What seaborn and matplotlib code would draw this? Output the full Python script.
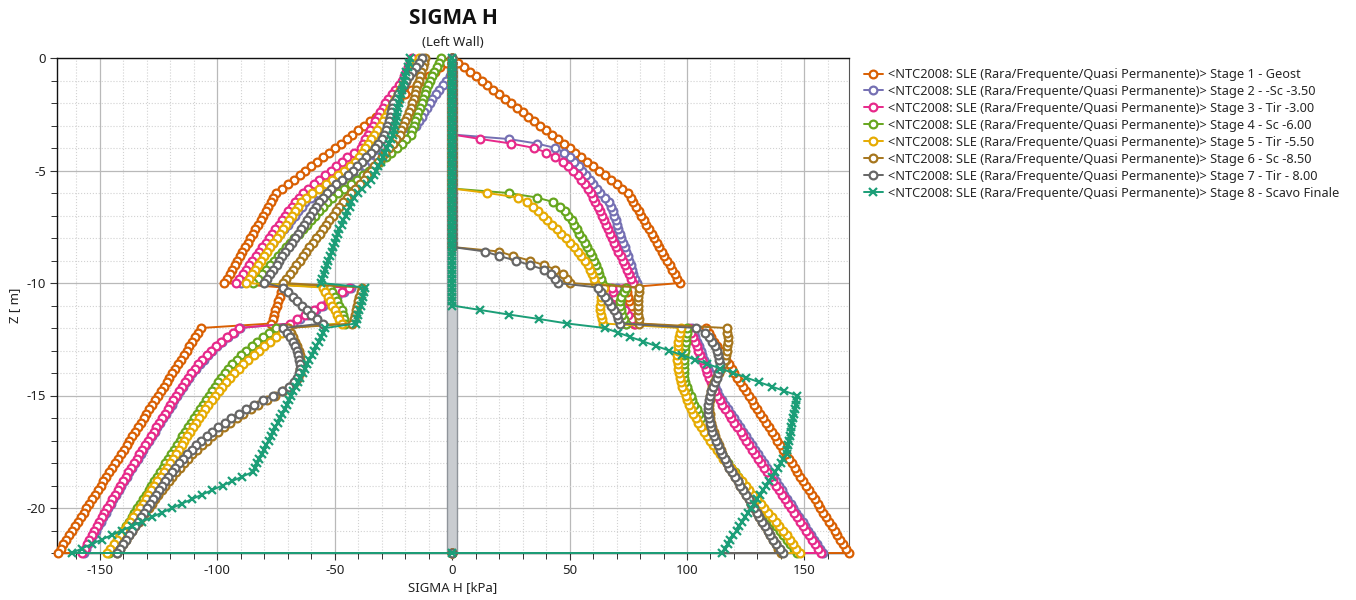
import numpy as np
import pandas as pd
import matplotlib
matplotlib.use("Agg")
import matplotlib.pyplot as plt
import seaborn as sns
from matplotlib.lines import Line2D
from matplotlib.ticker import MultipleLocator

# Wall mesh: node depths (m), 0.2 m spacing from top of wall to toe
node_z = np.linspace(0.0, -22.0, 111)

stage_labels = [
    "<NTC2008: SLE (Rara/Frequente/Quasi Permanente)> Stage 1 - Geost",
    "<NTC2008: SLE (Rara/Frequente/Quasi Permanente)> Stage 2 - -Sc -3.50",
    "<NTC2008: SLE (Rara/Frequente/Quasi Permanente)> Stage 3 - Tir -3.00",
    "<NTC2008: SLE (Rara/Frequente/Quasi Permanente)> Stage 4 - Sc -6.00",
    "<NTC2008: SLE (Rara/Frequente/Quasi Permanente)> Stage 5 - Tir -5.50",
    "<NTC2008: SLE (Rara/Frequente/Quasi Permanente)> Stage 6 - Sc -8.50",
    "<NTC2008: SLE (Rara/Frequente/Quasi Permanente)> Stage 7 - Tir - 8.00",
    "<NTC2008: SLE (Rara/Frequente/Quasi Permanente)> Stage 8 - Scavo Finale",
]

# Horizontal stress (kPa) at each node; left side negative, right side positive
s1_left = [
    0, -2.5, -5, -7.5, -10, -12.5, -15, -17.5, -20, -22.5, -25, -27.5, -30, -32.5, -35, -37.5, -40, -42.5, -45, -47.5, -50, -52.5, -55, -57.5, -60, -62.5, -65, -67.5, -70, -72.5, -75,
    -76.1, -77.2, -78.3, -79.4, -80.5, -81.6, -82.7, -83.8, -84.9, -86, -87.1, -88.2, -89.3, -90.4, -91.5, -92.6, -93.7, -94.8, -95.9, -97,
    -72, -72.7, -73.4, -74, -74.7, -75.3, -76, -76.5, -77,
    -107, -108.2, -109.4, -110.7, -111.9, -113.1, -114.3, -115.5, -116.8, -118, -119.2, -120.4, -121.6, -122.9, -124.1, -125.3, -126.5, -127.7, -129, -130.2, -131.4, -132.6, -133.8, -135.1, -136.3, -137.5, -138.7, -139.9, -141.2, -142.4, -143.6, -144.8, -146, -147.3, -148.5, -149.7, -150.9, -152.1, -153.4, -154.6, -155.8, -157, -158.2, -159.5, -160.7, -161.9, -163.1, -164.3, -165.6, -166.8, -168,
]
s1_right = [
    0, 2.5, 5, 7.5, 10, 12.5, 15, 17.5, 20, 22.5, 25, 27.5, 30, 32.5, 35, 37.5, 40, 42.5, 45, 47.5, 50, 52.5, 55, 57.5, 60, 62.5, 65, 67.5, 70, 72.5, 75,
    76.1, 77.2, 78.3, 79.4, 80.5, 81.6, 82.7, 83.8, 84.9, 86, 87.1, 88.2, 89.3, 90.4, 91.5, 92.6, 93.7, 94.8, 95.9, 97,
    74, 74.5, 75, 75.5, 76, 76.4, 76.8, 77.2, 77.6,
    108, 109.2, 110.4, 111.7, 112.9, 114.1, 115.3, 116.5, 117.8, 119, 120.2, 121.4, 122.6, 123.9, 125.1, 126.3, 127.5, 128.7, 130, 131.2, 132.4, 133.6, 134.8, 136.1, 137.3, 138.5, 139.7, 140.9, 142.2, 143.4, 144.6, 145.8, 147, 148.3, 149.5, 150.7, 151.9, 153.1, 154.4, 155.6, 156.8, 158, 159.2, 160.5, 161.7, 162.9, 164.1, 165.3, 166.6, 167.8, 169,
]

s2_left = [
    0, 0, 0, 0, -1, -2.5, -4, -5.5, -7, -8.5, -9.5, -10.6, -11.8, -13, -14.1, -15.3, -17.6, -20, -22.4, -24.8, -27.2, -29.6, -32, -34.5, -37.3, -40.3, -43.5, -46.8, -50.2, -53.6, -57, -60.2, -62.5,
    -64, -65.6, -67.1, -68.6, -70.1, -71.7, -73.2, -74.7, -76.3, -77.8, -79.3, -80.8, -82.4, -83.9, -85.4, -86.9, -88.5, -90,
    -43, -46, -49, -52, -55, -58, -61.5, -65, -68,
    -90.5, -93, -95.5, -97.9, -100.1, -102.2, -104.1, -105.9, -107.6, -109.2, -110.7, -112.1, -113.4, -114.7, -115.9, -117.1, -118.3, -119.5, -120.7, -121.9, -123.1, -124.3, -125.5, -126.7, -127.9, -129.1, -130.3, -131.5, -132.7, -133.9, -135.1, -136.3, -137.5, -138.6, -139.8, -140.9, -142, -143.2, -144.3, -145.4, -146.5, -147.6, -148.7, -149.7, -150.8, -151.9, -152.9, -154, -155, -156, -157,
]
s2_right = [
    0, 0, 0, 0, 0, 0, 0, 0, 0, 0, 0, 0, 0, 0, 0, 0, 0, 0,
    24, 36, 44, 47.5, 50, 52, 54, 55.5, 57, 58.5, 60, 61.5, 63, 65, 67,
    67.6, 68.3, 68.9, 69.6, 70.2, 70.8, 71.5, 72.1, 72.8, 73.4, 74, 74.7, 75.3, 76, 76.6, 77.2, 77.9, 78.5,
    70, 70.5, 71, 71.5, 72, 72.5, 73, 73.5, 74,
    102, 102.8, 103.5, 104.3, 105.1, 105.9, 106.6, 107.4, 108.2, 108.9, 109.7, 110.5, 111.3, 112, 112.8, 113.6,
    114.9, 116.1, 117.4, 118.7, 119.9, 121.2, 122.5, 123.8, 125, 126.3, 127.6, 128.8, 130.1, 131.4, 132.6, 133.9, 135.2, 136.5, 137.7, 139, 140.3, 141.5, 142.8, 144.1, 145.3, 146.6, 147.9, 149.2, 150.4, 151.7, 153, 154.2, 155.5, 156.8, 158,
]

s3_left = [
    -17, -17.9, -18.8, -19.7, -20.6, -21.5, -22.8, -24.3, -25.8, -27.2, -28.5, -29.6, -30.6, -31.7, -32.8, -33.9, -35, -36, -37, -38, -39, -41.8, -44.6, -47, -49.4, -51.8, -54.2, -56.6, -58.9, -61.2, -63.4, -65.4, -67,
    -68.4, -69.8, -71.2, -72.6, -73.9, -75.3, -76.7, -78.1, -79.5, -80.9, -82.3, -83.7, -85.1, -86.4, -87.8, -89.2, -90.6, -92,
    -44, -47, -50, -53, -56, -59, -62.5, -66, -69,
    -91, -93.5, -96, -98.4, -100.6, -102.7, -104.6, -106.4, -108.1, -109.7, -111.2, -112.6, -113.9, -115.2, -116.4, -117.6, -118.8, -120, -121.2, -122.4, -123.6, -124.8, -126, -127.2, -128.4, -129.6, -130.8, -132, -133.2, -134.4, -135.6, -136.8, -138, -139.1, -140.3, -141.4, -142.5, -143.7, -144.8, -145.9, -147, -148.1, -149.2, -150.2, -151.3, -152.4, -153.4, -154.5, -155.5, -156.5, -157.5,
]
s3_right = [
    0, 0, 0, 0, 0, 0, 0, 0, 0, 0, 0, 0, 0, 0, 0, 0, 0, 0,
    12, 25, 35, 40, 44, 47, 49.5, 51.5, 53.5, 55, 56.5, 58, 59, 60, 61,
    61.9, 62.8, 63.7, 64.6, 65.4, 66.3, 67.2, 68.1, 69, 69.9, 70.8, 71.7, 72.6, 73.4, 74.3, 75.2, 76.1, 77,
    68, 68.7, 69.4, 70.5, 72, 73.5, 75, 76.5, 78,
    101, 101.8, 102.5, 103.3, 104.1, 104.9, 105.6, 106.4, 107.2, 107.9, 108.7, 109.5, 110.3, 111, 111.8, 112.6,
    113.9, 115.1, 116.4, 117.7, 118.9, 120.2, 121.5, 122.8, 124, 125.3, 126.6, 127.8, 129.1, 130.4, 131.6, 132.9, 134.2, 135.5, 136.7, 138, 139.3, 140.5, 141.8, 143.1, 144.3, 145.6, 146.9, 148.2, 149.4, 150.7, 152, 153.2, 154.5, 155.8, 157,
]

s4_left = [
    -4.7, -5.7, -6.6, -7.6, -8.6, -9.5, -10.4, -11, -11.7, -12.4, -13, -13.7, -14.4, -15, -15.7, -16.4, -17, -17.7, -19.5, -21.5, -23.6, -25.9, -28.2, -30.6, -33, -35.5, -38, -40.6, -43.2, -45.9, -48.6, -51.2, -53.2,
    -54.9, -56.7, -58.4, -60.2, -61.9, -63.7, -65.4, -67.2, -68.9, -70.7, -72.4, -74.2, -75.9, -77.7, -79.4, -81.2, -82.9, -84.7,
    -52, -51, -50, -49, -48, -47, -46.5, -46, -45.5,
    -75, -77.8, -80.4, -83, -85.4, -87.7, -89.8, -91.8, -93.6, -95.3, -96.9, -98.4, -99.8, -101.1, -102.4, -103.6, -104.9, -106.2, -107.5, -108.8, -110.1, -111.3, -112.5, -113.7, -114.9, -116.1, -117.3, -118.5, -119.7, -120.9, -122.1, -123.3, -124.5, -125.7, -126.9, -128.1, -129.3, -130.5, -131.7, -132.9, -134.1, -135.3, -136.5, -137.7, -138.9, -140.1, -141.3, -142.5, -143.6, -144.8, -146,
]
s4_right = [
    0, 0, 0, 0, 0, 0, 0, 0, 0, 0, 0, 0, 0, 0, 0, 0, 0, 0, 0, 0, 0, 0, 0, 0, 0, 0, 0, 0, 0, 0,
    24, 36, 43, 46, 48, 49.5, 51, 52, 53, 54, 55.5, 56.5, 57.5, 58.5, 59.5, 60.5, 61.2, 62, 62.7, 63.3, 64,
    74, 73, 72, 71.5, 71.5, 72, 72.5, 73, 74,
    100, 99.8, 99.6, 99.4, 99.2, 99, 98.8, 98.7, 98.6, 98.6, 98.7, 98.9, 99.2,
    99.8, 100.6, 101.5, 102.3, 103.2, 104.1, 105.1, 106.1, 107.1, 108.2, 109.3, 110.4, 111.5, 112.7, 113.9, 115.1, 116.3, 117.5, 118.9, 120.3, 121.7, 123.1, 124.5, 126, 127.5, 129, 130.5, 132, 133.5, 135, 136.5, 138, 139.5, 141, 142.5, 144, 145.5, 147,
]

s5_left = [
    -14, -15.2, -16.3, -17.5, -18.7, -19.8, -21, -22.1, -23.2, -24.2, -25.2, -26.3, -27.4, -28.5, -29.6, -30.8, -32, -33.2, -34.4, -35.7, -37, -38.3, -39.7, -41.4, -43.6, -46, -48.5, -51, -53.8, -56.7, -59.6, -62.2, -64.2,
    -65.5, -66.8, -68.2, -69.5, -70.8, -72.1, -73.4, -74.8, -76.1, -77.4, -78.7, -80, -81.4, -82.7, -84, -85.3, -86.7, -88,
    -55, -54, -53, -52, -51, -50, -49, -48, -47,
    -70, -72.6, -75.2, -77.7, -80.1, -82.4, -84.6, -86.8, -88.9, -90.9, -92.8, -94.6, -96.3, -97.9, -99.5, -101, -102.4, -103.8, -105.2, -106.6, -108, -109.2, -110.4, -111.6, -112.8, -114, -115.2, -116.4, -117.6, -118.8, -120, -121.4, -122.8, -124.2, -125.6, -127, -128.2, -129.4, -130.6, -131.8, -133, -134.4, -135.8, -137.2, -138.6, -140, -141.4, -142.8, -144.2, -145.6, -147,
]
s5_right = [
    0, 0, 0, 0, 0, 0, 0, 0, 0, 0, 0, 0, 0, 0, 0, 0, 0, 0, 0, 0, 0, 0, 0, 0, 0, 0, 0, 0, 0, 0,
    15, 28, 32, 34.5, 36.5, 38.5, 40.5, 42.5, 44.5, 46.5, 48.5, 50.3, 52, 53.6, 55, 56.5, 57.7, 58.8, 59.7, 60.4, 61,
    64.5, 64, 63.5, 63.2, 63, 63, 63.2, 63.6, 64.3,
    97.5, 97, 96.6, 96.3, 96.1, 96, 95.9, 95.9, 96, 96.2, 96.5, 96.9, 97.4, 98, 98.7, 99.5,
    100.2, 101, 101.8, 102.7, 103.7, 104.8, 106, 107.2, 108.5, 109.8, 111.2, 112.6, 114, 115.5, 117, 118.6, 120.2, 121.8, 123.4, 125, 126.6, 128.2, 129.8, 131.4, 133, 134.6, 136.2, 137.8, 139.4, 141, 142.4, 143.8, 145.2, 146.6, 148,
]

s6_left = [
    -11.5, -12, -12.6, -13.1, -13.7, -14.2, -14.8, -15.3, -15.9, -16.4, -17, -17.6, -18.4, -19.2, -20, -20.8, -21.6, -22.4, -23.9, -25.4, -27, -28.5, -30, -31.6, -33.1, -34.6, -36.2, -37.7, -39.2, -41.2, -43.2, -45, -46.7,
    -48.1, -49.5, -50.9, -52.3, -53.7, -55.1, -56.5, -57.9, -59.3, -60.8, -62.2, -63.6, -65, -66.4, -67.8, -69.2, -70.6, -72,
    -38.5, -39, -39.5, -40, -40.5, -41, -41.5, -42, -42.5,
    -70, -68.8, -67.7, -66.8, -66, -65.4, -64.9, -64.6, -64.5, -64.6, -65, -65.8, -67.1, -69.2, -72, -75.5, -79, -82.5, -85.8, -88.9, -91.8, -94.6, -97.2, -99.7, -102.1, -104.4, -106.6, -108.7, -110.7, -112.6, -114.4, -116.1, -117.7, -119.3, -120.8, -122.3, -123.7, -125.1, -126.5, -127.9, -129.3, -130.7, -132.1, -133.5, -134.9, -136.3, -137.6, -138.9, -140.2, -141.5, -142.8,
]
s6_right = [
    0, 0, 0, 0, 0, 0, 0, 0, 0, 0, 0, 0, 0, 0, 0, 0, 0, 0, 0, 0, 0, 0, 0, 0, 0, 0, 0, 0, 0, 0, 0, 0, 0, 0, 0, 0, 0, 0, 0, 0, 0, 0, 0,
    20, 26, 33, 39, 44, 47, 49, 50,
    79.5, 79.5, 79.3, 79.3, 79.2, 79.2, 79.3, 79.4, 79.5,
    117, 117.2, 117.3, 117.3, 117.2, 117, 116.7, 116.2, 115.5, 114.5, 113.5, 112.5, 111.6, 110.8, 110.2, 109.8,
    109.6, 109.5, 109.5, 109.6, 109.9, 110.3, 110.8, 111.4, 112, 112.7, 113.5, 114.3, 115.1, 116, 117,
    118.1, 119.3, 120.4, 121.6, 122.7, 123.9, 125, 126.2, 127.3, 128.5, 129.7, 130.8, 132, 133.1, 134.3, 135.4, 136.6, 137.7, 138.9, 140,
]

s7_left = [
    -13, -14.3, -15.6, -16.9, -18.2, -19.5, -20.7, -21.9, -23, -24, -25, -25.6, -26.1, -26.6, -27.1, -27.7, -28.3, -29, -30.1, -31.4, -32.8, -34.5, -36.5, -38.5, -40.4, -42.2, -44.5, -47, -49.5, -51.5, -53.5, -55.2, -56.8,
    -58.1, -59.4, -60.7, -61.9, -63.2, -64.5, -65.8, -67.1, -68.4, -69.7, -71, -72.3, -73.6, -74.8, -76.1, -77.4, -78.7, -80,
    -72, -70, -68, -66, -64, -62, -60, -57.5, -55,
    -72, -70.5, -69.2, -68, -67, -66.2, -65.5, -65.1, -64.9, -64.9, -65.2, -65.9, -67.2, -69.5, -72.5, -76.5, -80.5, -84.3, -87.8, -91, -94, -96.9, -99.6, -102.1, -104.5, -106.8, -109, -111, -113, -114.8, -116.5, -118, -119.5, -121, -122.4, -123.7, -125, -126.2, -127.4, -128.6, -129.8, -131.1, -132.4, -133.7, -135, -136.3, -137.6, -138.9, -140.2, -141.5, -142.8,
]
s7_right = [
    0, 0, 0, 0, 0, 0, 0, 0, 0, 0, 0, 0, 0, 0, 0, 0, 0, 0, 0, 0, 0, 0, 0, 0, 0, 0, 0, 0, 0, 0, 0, 0, 0, 0, 0, 0, 0, 0, 0, 0, 0, 0, 0,
    14, 20, 27, 33, 39, 42, 44, 45,
    62, 63.5, 65, 66.5, 67.8, 69, 70, 70.8, 71.5,
    104, 107.5, 109.3, 110.7, 111.8, 112.6, 113.3, 113.8, 114, 113.9, 113.4, 112.6, 111.8, 111, 110.3, 109.8, 109.4, 109.1, 109, 109, 109.2, 109.6, 110.1, 110.7, 111.4, 112.2, 113, 113.9, 114.9, 116, 117,
    118.1, 119.3, 120.4, 121.6, 122.7, 123.9, 125, 126.2, 127.3, 128.5, 129.7, 130.8, 132, 133.1, 134.3, 135.5, 136.8, 138.1, 139.5, 141,
]

s8_left = [
    -18, -18.5, -19, -19.5, -20, -20.5, -21, -21.5, -22, -22.3, -22.7, -23, -23.3, -23.7, -24, -24.3, -24.7, -25, -25.9, -26.8, -27.7, -28.6, -29.5, -30.5, -31.5, -32.5, -33.5, -34.5, -36.4, -38.2, -40.1, -42, -42.9,
    -43.7, -44.6, -45.4, -46.3, -47.1, -48, -48.7, -49.3, -50, -50.7, -51.3, -52, -52.7, -53.3, -54, -54.7, -55.3, -56,
    -37, -37.5, -38, -38.5, -39, -39.5, -40, -40.5, -41,
    -54, -55, -55.9, -56.9, -57.9, -58.8, -59.8, -60.8, -61.8, -62.7, -63.7, -64.7, -65.6, -66.6, -67.6, -68.5, -69.5, -70.5, -71.4, -72.4, -73.4, -74.3, -75.3, -76.3, -77.3, -78.2, -79.2, -80.2, -81.1, -82.1, -83.1, -84, -85,
    -89.3, -93.6, -97.8, -102.1, -106.4, -110.7, -114.9, -119.2, -123.5, -127.8, -132.1, -136.3, -140.6, -144.9, -149.2, -153.4, -157.7, -162,
]
s8_right = [
    0, 0, 0, 0, 0, 0, 0, 0, 0, 0, 0, 0, 0, 0, 0, 0, 0, 0, 0, 0, 0, 0, 0, 0, 0, 0, 0, 0, 0, 0, 0, 0, 0, 0, 0, 0, 0, 0, 0, 0, 0, 0, 0, 0, 0, 0, 0, 0, 0, 0, 0,
    0, 0, 0, 0, 0, 12, 24, 37, 49,
    65, 70.5, 75.9, 81.4, 86.9, 92.3, 97.8, 103.3, 108.7, 114.2, 119.7, 125.1, 130.6, 136.1, 141.5, 147,
    146.6, 146.3, 145.9, 145.6, 145.2, 144.9, 144.5, 144.2, 143.8, 143.5, 143.1, 142.8, 142.4,
    141.1, 139.9, 138.6, 137.4, 136.1, 134.9, 133.6, 132.4, 131.1, 129.8, 128.6, 127.3, 126.1, 124.8, 123.6, 122.3, 121.1, 119.8, 118.5, 117.3, 116, 114.8,
]

profiles = [
    (s1_left, s1_right), (s2_left, s2_right), (s3_left, s3_right), (s4_left, s4_right),
    (s5_left, s5_right), (s6_left, s6_right), (s7_left, s7_right), (s8_left, s8_right),
]
for i, (lft, rgt) in enumerate(profiles):
    if len(lft) != len(node_z) or len(rgt) != len(node_z):
        raise ValueError(f"stage {i + 1}: {len(lft)} / {len(rgt)} values")

sns.set_theme(style="white")
plt.rcParams["font.family"] = ["Noto Sans", "DejaVu Sans"]
plt.rcParams["axes.unicode_minus"] = False

W, H = 1356, 600
fig = plt.figure(figsize=(W / 100, H / 100), dpi=100)
ax = fig.add_axes([57 / W, 1 - 553 / H, (849 - 57) / W, (553 - 58) / H])

dark2 = sns.color_palette("Dark2", 8)
stage_colors = list(dark2[1:8]) + [dark2[0]]

# Diaphragm wall
ax.fill_betweenx([0, -22], -2.05, 2.05, facecolor="#c9ccd0", edgecolor="#8f949a",
                 linewidth=1.0, zorder=1.5)

handles = []
for i, (lft, rgt) in enumerate(profiles):
    col = stage_colors[i]
    sig = list(lft) + [0.0] + list(rgt)[::-1]
    zz = list(node_z) + [-22.0] + list(node_z)[::-1]
    df = pd.DataFrame({"sigma": sig, "z": zz})
    if i == 7:
        mk = dict(marker="x", markersize=5.5, markeredgewidth=1.6,
                  markeredgecolor=col, markerfacecolor=col)
    else:
        mk = dict(marker="o", markersize=5.6, markeredgewidth=1.6,
                  markeredgecolor=col, markerfacecolor="white")
    sns.lineplot(data=df, x="sigma", y="z", sort=False, estimator=None, ax=ax,
                 color=col, linewidth=1.4, clip_on=False, zorder=3 + i, **mk)
    handles.append(Line2D([], [], color=col, linewidth=1.4, **mk))

ax.set_xlim(-168.3, 169.0)
ax.set_ylim(-22, 0)
ax.set_xticks([-150, -100, -50, 0, 50, 100, 150])
ax.xaxis.set_minor_locator(MultipleLocator(10))
ax.yaxis.set_major_locator(MultipleLocator(5))
ax.yaxis.set_minor_locator(MultipleLocator(1))
ax.grid(which="major", color="#b9b9b9", linewidth=0.9)
ax.grid(which="minor", color="#d2d2d2", linewidth=0.8, linestyle=":")
ax.set_axisbelow(True)
ax.tick_params(which="major", direction="out", length=5, width=0.8, color="#333333",
               labelsize=9.5, labelcolor="#222222", left=True, bottom=True)
ax.tick_params(axis="x", which="major", pad=3)
ax.tick_params(axis="y", which="major", pad=3)
ax.tick_params(which="minor", direction="out", length=4, width=0.7, color="#333333",
               left=True, bottom=True)
for side in ["left", "bottom", "top"]:
    ax.spines[side].set_color("#111111")
    ax.spines[side].set_linewidth(1.0)
ax.spines["right"].set_color("#555555")
ax.spines["right"].set_linewidth(0.8)

ax.set_xlabel("SIGMA H [kPa]", fontsize=9.5, color="#222222", labelpad=3)
ax.set_ylabel("Z [ m]", fontsize=9.5, color="#222222", labelpad=4)

fig.text(453 / W, 1 - 18 / H, "SIGMA H", ha="center", va="center",
         fontsize=15, fontweight="bold", color="#111111",
         family=["Open Sans", "DejaVu Sans"])
fig.text(453 / W, 1 - 42 / H, "(Left Wall)", ha="center", va="center",
         fontsize=9.5, color="#222222")

fig.legend(handles, stage_labels, loc="upper left",
           bbox_to_anchor=(864 / W, 1 - 68 / H), frameon=False, fontsize=9.2,
           handlelength=1.45, handletextpad=0.45, labelspacing=0.31,
           borderaxespad=0, borderpad=0)

fig.savefig("out.png", dpi=100)
